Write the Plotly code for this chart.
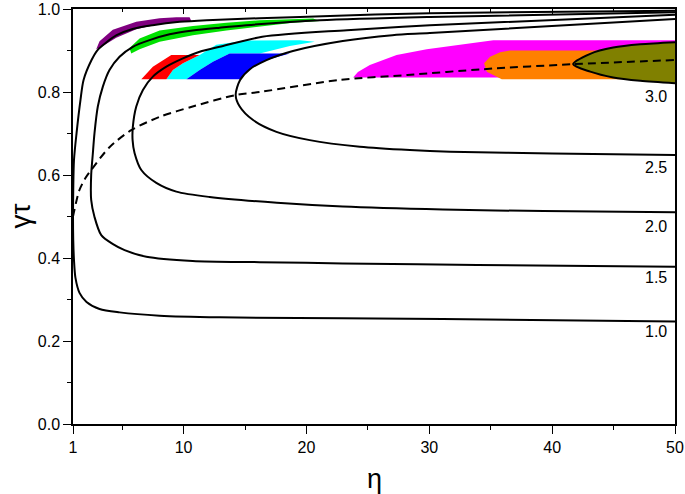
import plotly.graph_objects as go

# ---- contour curves (eta, gamma*tau) ----
eta_c10 = [50.0, 30.05, 19.46, 11.88, 9.68, 7.48, 5.85, 4.55, 3.73, 3.00, 2.51, 1.86, 1.61, 1.29, 1.08, 1.02, 1.00, 1.02, 1.08, 1.20, 1.53, 2.10, 3.16, 4.79, 8.05, 12.94, 31.1, 50.0]
gt_c10 = [0.996, 0.990, 0.981, 0.973, 0.969, 0.961, 0.952, 0.937, 0.920, 0.901, 0.877, 0.829, 0.781, 0.701, 0.636, 0.564, 0.501, 0.443, 0.395, 0.352, 0.316, 0.294, 0.277, 0.269, 0.261, 0.257, 0.253, 0.247]

eta_c15 = [50.0, 30.05, 21.1, 15.1, 12.94, 10.74, 8.86, 7.23, 5.87, 4.79, 3.97, 3.43, 3.02, 2.75, 2.61, 2.48, 2.48, 2.75, 3.30, 4.22, 5.20, 6.97, 10.74, 16.2, 22.96, 33.9, 50.0]
gt_c15 = [0.992, 0.981, 0.973, 0.961, 0.955, 0.948, 0.939, 0.925, 0.909, 0.885, 0.853, 0.813, 0.765, 0.701, 0.650, 0.600, 0.540, 0.499, 0.455, 0.434, 0.419, 0.403, 0.393, 0.390, 0.387, 0.383, 0.379]

eta_c20 = [50.0, 30.05, 23.3, 16.4, 12.94, 11.31, 9.95, 8.60, 7.50, 6.69, 6.15, 5.87, 5.85, 6.01, 6.56, 7.78, 9.41, 12.12, 17.6, 22.96, 31.1, 39.3, 50.0]
gt_c20 = [0.986, 0.961, 0.949, 0.933, 0.909, 0.897, 0.881, 0.861, 0.837, 0.805, 0.765, 0.716, 0.684, 0.653, 0.612, 0.581, 0.560, 0.547, 0.533, 0.524, 0.517, 0.513, 0.510]

eta_c25 = [50.0, 30.05, 27.0, 22.96, 18.9, 16.75, 15.4, 14.6, 14.24, 14.57, 15.63, 17.56, 20.27, 24.35, 28.42, 31.7, 40.0, 50.0]
gt_c25 = [0.976, 0.942, 0.937, 0.923, 0.899, 0.877, 0.855, 0.829, 0.793, 0.765, 0.733, 0.704, 0.684, 0.668, 0.660, 0.656, 0.652, 0.648]

eta_c30 = [50.0, 47.17, 44.97, 43.10, 41.71, 43.10, 44.97, 47.17, 50.0]
gt_c30 = [0.920, 0.915, 0.907, 0.892, 0.867, 0.849, 0.835, 0.827, 0.821]

eta_dash = [1.0, 1.12, 1.5, 2.0, 2.48, 3.97, 5.74, 8.05, 10.74, 14.3, 16.2, 22.7, 28.2, 34.4, 41.7, 50.0]
gt_dash = [0.50, 0.516, 0.562, 0.592, 0.612, 0.667, 0.708, 0.740, 0.765, 0.793, 0.80, 0.829, 0.841, 0.855, 0.867, 0.877]

# ---- coloured regions ----
eta_purple = [2.89, 3.43, 4.52, 6.15, 8.05, 10.63, 10.49, 9.41, 8.05, 6.15, 4.24, 3.16]
gt_purple = [0.903, 0.911, 0.931, 0.951, 0.964, 0.971, 0.980, 0.980, 0.978, 0.969, 0.950, 0.922]

eta_green = [5.74, 6.42, 8.05, 10.76, 13.49, 16.2, 18.9, 21.1, 20.54, 16.2, 13.49, 10.76, 8.05, 6.42, 5.60]
gt_green = [0.893, 0.903, 0.921, 0.937, 0.948, 0.957, 0.967, 0.971, 0.977, 0.973, 0.967, 0.959, 0.948, 0.929, 0.906]

eta_cyan = [8.60, 10.23, 11.31, 12.39, 13.75, 16.20, 18.65, 20.68, 19.46, 17.83, 15.12, 12.67, 11.31, 9.95, 9.13]
gt_cyan = [0.831, 0.831, 0.853, 0.873, 0.893, 0.893, 0.911, 0.921, 0.925, 0.925, 0.924, 0.914, 0.889, 0.869, 0.853]

eta_blue = [10.23, 14.57, 15.38, 16.75, 18.65, 13.75, 12.39, 11.31]
gt_blue = [0.831, 0.831, 0.855, 0.877, 0.893, 0.893, 0.873, 0.853]

eta_red = [6.56, 8.60, 9.13, 9.95, 11.31, 9.0, 7.50]
gt_red = [0.831, 0.831, 0.853, 0.869, 0.889, 0.889, 0.861]

eta_magenta = [23.80, 24.19, 25.16, 27.34, 29.79, 31.69, 35.21, 50.0, 50.0]
gt_magenta = [0.835, 0.848, 0.865, 0.889, 0.903, 0.911, 0.925, 0.925, 0.835]

eta_orange = [36.58, 50.0, 50.0, 35.90, 35.49, 34.68, 34.46, 34.95, 35.76]
gt_orange = [0.900, 0.900, 0.831, 0.831, 0.837, 0.849, 0.869, 0.885, 0.896]

levels = ["3.0", "2.5", "2.0", "1.5", "1.0"]
level_y = [0.788, 0.619, 0.477, 0.352, 0.222]

x_ticks = [1, 10, 20, 30, 40, 50]
x_minor = [5, 15, 25, 35, 45]
y_ticks = [0.0, 0.2, 0.4, 0.6, 0.8, 1.0]
y_minor = [0.1, 0.3, 0.5, 0.7, 0.9]

FONT = "Liberation Sans, Arial, sans-serif"

fig = go.Figure()

def region(xs, ys, color):
    fig.add_trace(go.Scatter(x=xs, y=ys, mode="lines", fill="toself", fillcolor=color,
                             line=dict(width=0, color=color), hoverinfo="skip", showlegend=False))

region(eta_magenta, gt_magenta, "#FF00FF")
region(eta_orange, gt_orange, "#FF8000")
region(eta_cyan, gt_cyan, "#00FFFF")
region(eta_blue, gt_blue, "#0000FF")
region(eta_red, gt_red, "#FF0000")
region(eta_purple, gt_purple, "#800080")
region(eta_green, gt_green, "#00E000")

# olive interior of the 3.0 contour
fig.add_trace(go.Scatter(x=eta_c30, y=gt_c30, mode="lines", fill="toself", fillcolor="#808000",
                         line=dict(color="black", width=2, shape="spline", smoothing=0.8),
                         showlegend=False))

for xs, ys in [(eta_c10, gt_c10), (eta_c15, gt_c15), (eta_c20, gt_c20), (eta_c25, gt_c25)]:
    fig.add_trace(go.Scatter(x=xs, y=ys, mode="lines",
                             line=dict(color="black", width=2, shape="spline", smoothing=0.8),
                             showlegend=False))

fig.add_trace(go.Scatter(x=eta_dash, y=gt_dash, mode="lines",
                         line=dict(color="black", width=2, dash="8px,5px", shape="spline", smoothing=0.8),
                         showlegend=False))

# dummy trace for the top tick axis
fig.add_trace(go.Scatter(x=[], y=[], xaxis="x2", showlegend=False))

for lab, yv in zip(levels, level_y):
    fig.add_annotation(x=50, y=yv, xref="x", yref="y", text=lab, showarrow=False,
                       xanchor="right", yanchor="middle", xshift=-6,
                       font=dict(family=FONT, size=16, color="black"))

fig.add_annotation(x=0.5, y=0, xref="paper", yref="paper", text="η", showarrow=False,
                   xanchor="center", yanchor="top", yshift=-38,
                   font=dict(family=FONT, size=27, color="black"))
fig.add_annotation(x=0, y=0.5, xref="paper", yref="paper", text="γτ", showarrow=False,
                   textangle=-90, xanchor="center", yanchor="middle", xshift=-53,
                   font=dict(family=FONT, size=28, color="black"))

fig.update_layout(
    width=685, height=494,
    margin=dict(l=73, r=10, t=9, b=70, autoexpand=False),
    paper_bgcolor="white", plot_bgcolor="white",
    font=dict(family=FONT, size=16, color="black"),
    xaxis=dict(range=[1, 50], tickvals=x_ticks, ticktext=[str(v) for v in x_ticks],
               ticks="outside", ticklen=8, tickwidth=1.2, tickcolor="black",
               showline=True, linecolor="black", linewidth=1.5, mirror=True,
               showgrid=False, zeroline=False, automargin=False, ticklabeloverflow="allow",
               minor=dict(tickvals=x_minor, ticks="outside", ticklen=4, tickcolor="black", showgrid=False),
               tickfont=dict(family=FONT, size=16)),
    xaxis2=dict(range=[1, 50], overlaying="x", side="top", anchor="y",
                tickvals=[10, 20, 30, 40], ticks="inside", ticklen=5, tickcolor="black",
                showticklabels=False, showgrid=False, zeroline=False, showline=False,
                automargin=False,
                minor=dict(tickvals=x_minor, ticks="inside", ticklen=3, tickcolor="black", showgrid=False)),
    yaxis=dict(range=[0, 1], tickvals=y_ticks, ticktext=[f"{v:.1f}" for v in y_ticks],
               ticks="outside", ticklen=8, tickwidth=1.2, tickcolor="black",
               showline=True, linecolor="black", linewidth=1.5, mirror=True,
               showgrid=False, zeroline=False, automargin=False, ticklabeloverflow="allow",
               minor=dict(tickvals=y_minor, ticks="outside", ticklen=4, tickcolor="black", showgrid=False),
               tickfont=dict(family=FONT, size=16)),
)

fig.write_html("out.html", config={"displayModeBar": False},
               post_script="document.body.style.margin='0';document.body.style.overflow='hidden';")
